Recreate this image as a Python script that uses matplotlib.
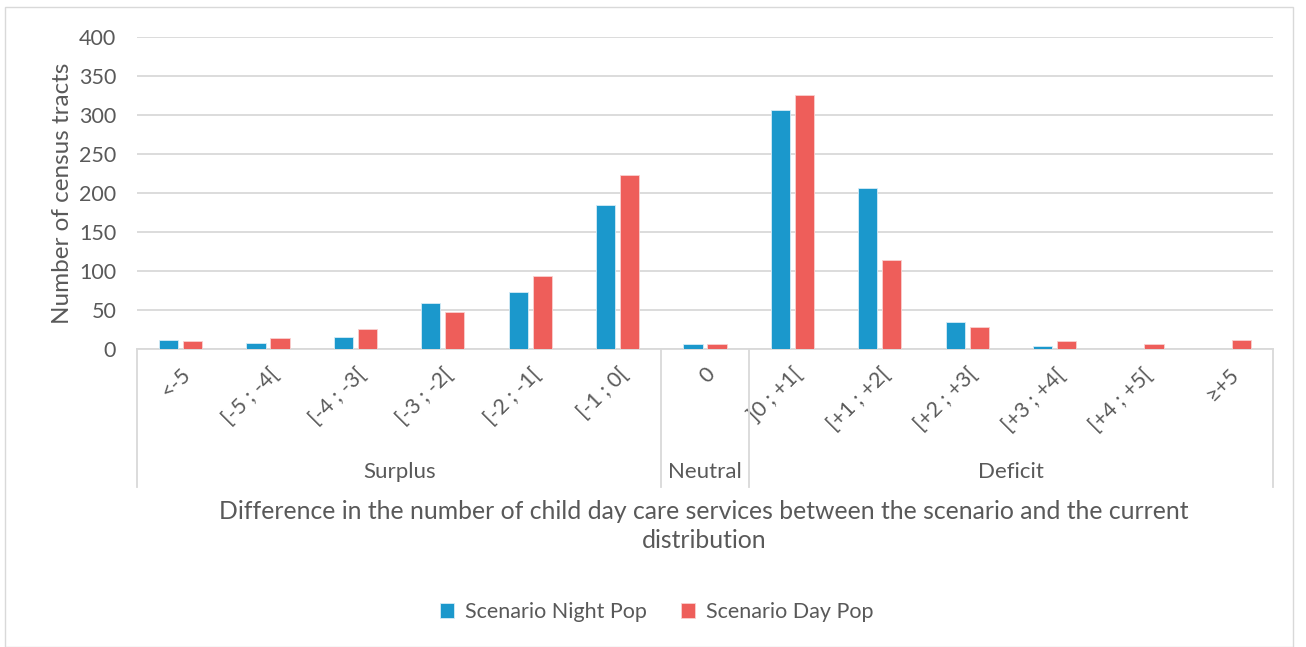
import numpy as np
import matplotlib
matplotlib.use("Agg")
from matplotlib import pyplot as plt
from matplotlib.transforms import blended_transform_factory

categories = ["<-5", "[-5 ; -4[", "[-4 ; -3[", "[-3 ; -2[", "[-2 ; -1[", "[-1 ; 0[",
              "0",
              "]0 ; +1[", "[+1 ; +2[", "[+2 ; +3[", "[+3 ; +4[", "[+4 ; +5[", "≥+5"]
night_pop = [12, 8, 16, 59, 73, 184, 6, 307, 207, 34, 4, 0, 0]
day_pop = [10, 14, 26, 47, 94, 223, 6, 326, 114, 28, 10, 6, 12]
groups = ["Surplus", "Neutral", "Deficit"]
group_sizes = [6, 1, 6]

grey_text = "#595959"
plt.rcParams["font.family"] = ["Lato", "DejaVu Sans"]

fig = plt.figure(figsize=(13.06, 6.47), dpi=100)
W, H = 1306, 647
# outer chart border
fig.patches.append(plt.Rectangle((5 / W, 0), 1288 / W, 1 - 7 / H, transform=fig.transFigure,
                                 fill=False, edgecolor="#d9d9d9", linewidth=1.0))

ax = fig.add_axes([137 / W, 1 - 349 / H, (1273 - 137) / W, (349 - 37) / H])

x = np.arange(len(categories))
bw = 0.22
off = 0.137
ax.bar(x - off, night_pop, bw, color="#1b98cc", edgecolor="#d6ecf6", linewidth=0.6,
       label="Scenario Night Pop", zorder=3)
ax.bar(x + off, day_pop, bw, color="#ee5e5a", edgecolor="#f9d0cf", linewidth=0.6,
       label="Scenario Day Pop", zorder=3)

ax.set_xlim(-0.5, len(categories) - 0.5)
ax.set_ylim(0, 400)
ax.set_yticks(np.arange(0, 401, 50))
ax.grid(axis="y", color="#d9d9d9", linewidth=1.3, zorder=0)
for s in ["top", "right", "left"]:
    ax.spines[s].set_visible(False)
ax.spines["bottom"].set_color("#d9d9d9")
ax.spines["bottom"].set_linewidth(1.3)
ax.tick_params(axis="both", length=0, labelsize=15.5, labelcolor=grey_text)
ax.tick_params(axis="y", pad=15)

ax.set_xticks(x)
ax.set_xticklabels(categories, rotation=45, ha="right", rotation_mode="anchor")
ax.tick_params(axis="x", pad=11)

ax.set_ylabel("Number of census tracts", fontsize=17.5, color=grey_text, labelpad=4)

# group separators and group labels below the tick labels
trans = blended_transform_factory(ax.transData, ax.transAxes)
sep_bottom = -(487 - 349) / (349 - 37)
edges = np.concatenate([[0], np.cumsum(group_sizes)]) - 0.5
for e in edges:
    ax.plot([e, e], [0, sep_bottom], transform=trans, color="#d9d9d9",
            linewidth=1.3, clip_on=False)
for g, a, b in zip(groups, edges[:-1], edges[1:]):
    ax.text((a + b) / 2, -(472 - 349) / (349 - 37), g, transform=trans,
            ha="center", va="center", fontsize=16, color=grey_text)

fig.text(704 / W, 1 - 526 / H,
         "Difference in the number of child day care services between the scenario and the current\ndistribution",
         ha="center", va="center", fontsize=17.8, color=grey_text, linespacing=1.35)

fig.legend(loc="center", bbox_to_anchor=(657 / W, 1 - 612 / H), ncol=2, frameon=False,
           fontsize=15.5, labelcolor=grey_text, handlelength=0.65, handleheight=0.65,
           handletextpad=0.5, columnspacing=1.6)

fig.savefig("out.png", dpi=100, facecolor="white")
